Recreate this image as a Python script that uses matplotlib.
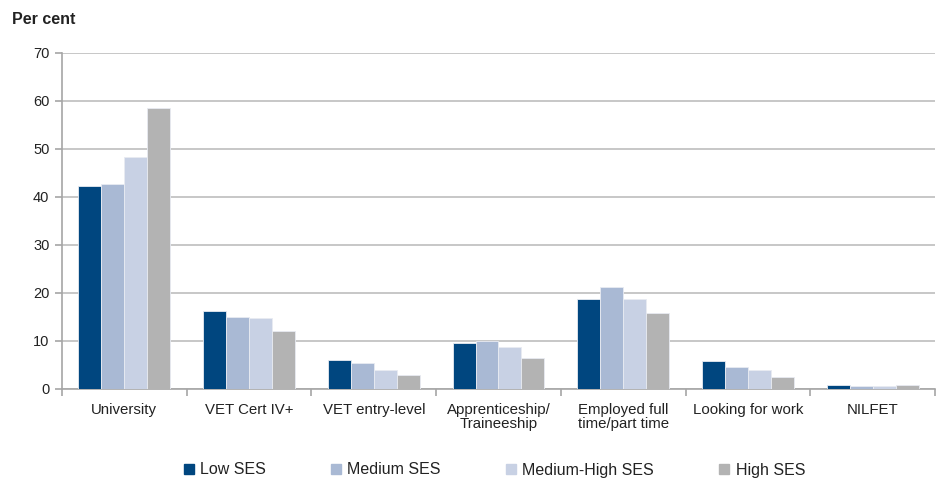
import matplotlib
matplotlib.use("Agg")
import matplotlib.pyplot as plt
import numpy as np
from matplotlib.lines import Line2D

plt.rcParams['font.family'] = ['Liberation Sans', 'DejaVu Sans']

categories = ["University", "VET Cert IV+", "VET entry-level", "Apprenticeship/\nTraineeship",
              "Employed full\ntime/part time", "Looking for work", "NILFET"]
series_names = ["Low SES", "Medium SES", "Medium-High SES", "High SES"]
low_ses = [42.2, 16.3, 6.1, 9.5, 18.7, 5.9, 0.8]
medium_ses = [42.8, 15.0, 5.4, 9.9, 21.3, 4.6, 0.6]
medium_high_ses = [48.4, 14.7, 4.0, 8.8, 18.8, 4.0, 0.6]
high_ses = [58.6, 12.0, 2.9, 6.5, 15.9, 2.6, 0.8]
colors = ["#00467F", "#A9B9D4", "#C8D1E4", "#B3B3B3"]
yticks = [0, 10, 20, 30, 40, 50, 60, 70]

fig = plt.figure(figsize=(9.37, 4.79), dpi=100)
ax = fig.add_axes([62 / 937, 90 / 479, 873 / 937, 336 / 479])

x = np.arange(len(categories))
w = 0.184
all_series = [low_ses, medium_ses, medium_high_ses, high_ses]
for i, (vals, c) in enumerate(zip(all_series, colors)):
    ax.bar(x + (i - 1.5) * w, vals, width=w, color=c, edgecolor="#E8EBF2",
           linewidth=0.6, zorder=3)

ax.set_xlim(-0.5, len(categories) - 0.5)
ax.set_ylim(0, 70)
ax.set_yticks(yticks)
ax.yaxis.grid(True, color="#BDBDBD", linewidth=1.2, zorder=0)
ax.set_axisbelow(True)

grey = "#A6A6A6"
for s in ["top", "right"]:
    ax.spines[s].set_visible(False)
for s in ["left", "bottom"]:
    ax.spines[s].set_color(grey)
    ax.spines[s].set_linewidth(1.2)

ax.tick_params(axis="y", colors=grey, length=5, width=1.2, labelcolor="#222222",
               labelsize=10.5, pad=4)
ax.set_xticks(x)
ax.set_xticklabels(categories, fontsize=10.8, color="#222222", linespacing=1.0, va="top")
ax.tick_params(axis="x", length=0, pad=10)
ax.set_xticks(np.arange(-0.5, len(categories), 1.0), minor=True)
ax.tick_params(axis="x", which="minor", length=5, width=1.2, colors=grey)

fig.text(12 / 937, 1 - 20 / 479, "Per cent", fontsize=11.5, fontweight="bold",
         color="#222222", va="center", ha="left")

handles = [Line2D([0], [0], marker="s", linestyle="none", markersize=7,
                  markerfacecolor=c, markeredgecolor=c) for c in colors]
fig.legend(handles, series_names, loc="center", bbox_to_anchor=(0.527, 1 - 470 / 479),
           ncol=4, frameon=False, fontsize=11.5, handletextpad=0.3,
           columnspacing=4.0, handlelength=0.8, labelcolor="#222222")

fig.savefig("out.png", dpi=100)
